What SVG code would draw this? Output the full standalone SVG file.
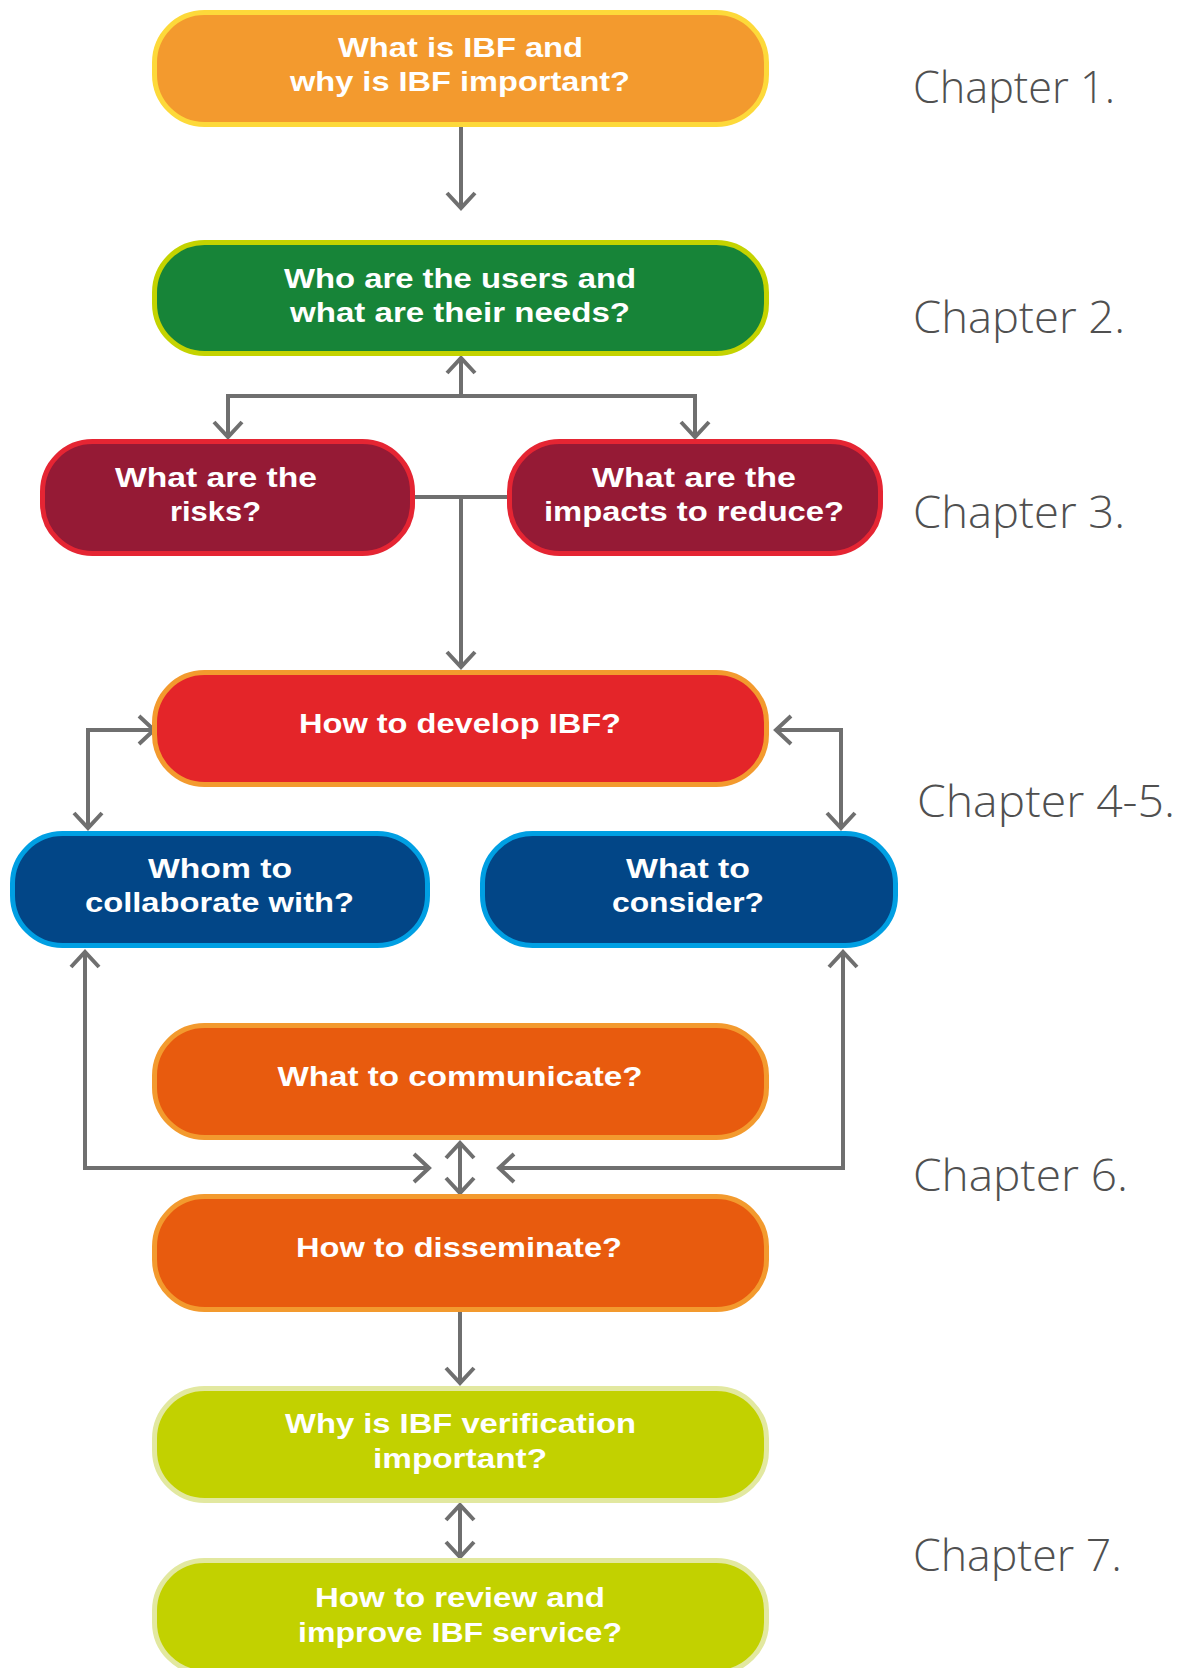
<svg xmlns="http://www.w3.org/2000/svg" width="1184" height="1668" viewBox="0 0 1184 1668">
<style>
.box{stroke-width:5}
.t{font-family:"Liberation Sans","DejaVu Sans",sans-serif;font-weight:700;font-size:28px;fill:#ffffff;text-anchor:middle}
.ch{font-family:"Open Sans","Noto Sans","Liberation Sans",sans-serif;font-weight:300;font-size:44px;fill:#505050}
.c{fill:none;stroke:#6f6f6f;stroke-width:4;stroke-linejoin:miter;stroke-linecap:butt}
.orange{fill:#f39a2e;stroke:#fdd93a}
.green{fill:#178438;stroke:#c4d300}
.maroon{fill:#951a35;stroke:#e52533}
.red{fill:#e42529;stroke:#f39a2e}
.navy{fill:#024687;stroke:#009fe3}
.dorange{fill:#e85b0e;stroke:#f39a2e}
.lime{fill:#c2d100;stroke:#e2e8a0}
</style>
<defs>
<marker id="arr" viewBox="-20 -20 40 40" refX="0" refY="0" markerWidth="40" markerHeight="40" markerUnits="userSpaceOnUse" orient="auto-start-reverse" overflow="visible">
<path d="M-15,-14 L0,0 L-15,14" fill="none" stroke="#6f6f6f" stroke-width="4" stroke-linejoin="miter"/>
</marker>
</defs>
<rect width="1184" height="1668" fill="#ffffff"/>

<g id="connectors">
<path class="c" d="M461,127 L461,208" marker-end="url(#arr)"/>
<path class="c" d="M461,396 L461,358" marker-end="url(#arr)"/>
<path class="c" d="M228,437 L228,396 L695,396 L695,437" marker-start="url(#arr)" marker-end="url(#arr)"/>
<path class="c" d="M415,497 L507,497"/>
<path class="c" d="M461,497 L461,667" marker-end="url(#arr)"/>
<path class="c" d="M88,828 L88,730 L154,730" marker-start="url(#arr)" marker-end="url(#arr)"/>
<path class="c" d="M841,828 L841,730 L776,730" marker-start="url(#arr)" marker-end="url(#arr)"/>
<path class="c" d="M85,952 L85,1168 L429,1168" marker-start="url(#arr)" marker-end="url(#arr)"/>
<path class="c" d="M843,952 L843,1168 L499,1168" marker-start="url(#arr)" marker-end="url(#arr)"/>
<path class="c" d="M460,1143 L460,1193" marker-start="url(#arr)" marker-end="url(#arr)"/>
<path class="c" d="M460,1312 L460,1383" marker-end="url(#arr)"/>
<path class="c" d="M460,1505 L460,1557" marker-start="url(#arr)" marker-end="url(#arr)"/>
</g>

<g id="n1">
<rect class="box orange" x="154.5" y="12.5" width="612" height="112" rx="50"/>
<text class="t" x="460.5" y="57" textLength="245" lengthAdjust="spacingAndGlyphs">What is IBF and</text>
<text class="t" x="460" y="91" textLength="340" lengthAdjust="spacingAndGlyphs">why is IBF important?</text>
</g>
<g id="n2">
<rect class="box green" x="154.5" y="242.5" width="612" height="111" rx="50"/>
<text class="t" x="460" y="288" textLength="352" lengthAdjust="spacingAndGlyphs">Who are the users and</text>
<text class="t" x="460" y="322" textLength="340" lengthAdjust="spacingAndGlyphs">what are their needs?</text>
</g>
<g id="n3a">
<rect class="box maroon" x="42.5" y="441.5" width="370" height="112" rx="50"/>
<text class="t" x="216" y="487" textLength="202" lengthAdjust="spacingAndGlyphs">What are the</text>
<text class="t" x="215.5" y="521" textLength="91" lengthAdjust="spacingAndGlyphs">risks?</text>
</g>
<g id="n3b">
<rect class="box maroon" x="509.5" y="441.5" width="371" height="112" rx="50"/>
<text class="t" x="694" y="487" textLength="204" lengthAdjust="spacingAndGlyphs">What are the</text>
<text class="t" x="694" y="521" textLength="300" lengthAdjust="spacingAndGlyphs">impacts to reduce?</text>
</g>
<g id="n4">
<rect class="box red" x="154.5" y="672.5" width="612" height="112" rx="50"/>
<text class="t" x="460" y="733" textLength="322" lengthAdjust="spacingAndGlyphs">How to develop IBF?</text>
</g>
<g id="n5a">
<rect class="box navy" x="12.5" y="833.5" width="415" height="112" rx="50"/>
<text class="t" x="220" y="878" textLength="144" lengthAdjust="spacingAndGlyphs">Whom to</text>
<text class="t" x="219.5" y="912" textLength="269" lengthAdjust="spacingAndGlyphs">collaborate with?</text>
</g>
<g id="n5b">
<rect class="box navy" x="482.5" y="833.5" width="413" height="112" rx="50"/>
<text class="t" x="688" y="878" textLength="124" lengthAdjust="spacingAndGlyphs">What to</text>
<text class="t" x="688" y="912" textLength="152" lengthAdjust="spacingAndGlyphs">consider?</text>
</g>
<g id="n6a">
<rect class="box dorange" x="154.5" y="1025.5" width="612" height="112" rx="50"/>
<text class="t" x="460" y="1086" textLength="365" lengthAdjust="spacingAndGlyphs">What to communicate?</text>
</g>
<g id="n6b">
<rect class="box dorange" x="154.5" y="1196.5" width="612" height="113" rx="50"/>
<text class="t" x="459" y="1257" textLength="326" lengthAdjust="spacingAndGlyphs">How to disseminate?</text>
</g>
<g id="n7a">
<rect class="box lime" x="154.5" y="1388.5" width="612" height="112" rx="50"/>
<text class="t" x="460.5" y="1433" textLength="351" lengthAdjust="spacingAndGlyphs">Why is IBF verification</text>
<text class="t" x="460" y="1468" textLength="174" lengthAdjust="spacingAndGlyphs">important?</text>
</g>
<g id="n7b">
<rect class="box lime" x="154.5" y="1560.5" width="612" height="112" rx="50"/>
<text class="t" x="460" y="1607" textLength="290" lengthAdjust="spacingAndGlyphs">How to review and</text>
<text class="t" x="460" y="1642" textLength="324" lengthAdjust="spacingAndGlyphs">improve IBF service?</text>
</g>

<g id="chapters">
<text class="ch" x="913" y="103" textLength="202" lengthAdjust="spacingAndGlyphs">Chapter 1.</text>
<text class="ch" x="913" y="333" textLength="212" lengthAdjust="spacingAndGlyphs">Chapter 2.</text>
<text class="ch" x="913" y="528" textLength="212" lengthAdjust="spacingAndGlyphs">Chapter 3.</text>
<text class="ch" x="917" y="817" textLength="258" lengthAdjust="spacingAndGlyphs">Chapter 4-5.</text>
<text class="ch" x="913" y="1191" textLength="215" lengthAdjust="spacingAndGlyphs">Chapter 6.</text>
<text class="ch" x="913" y="1571" textLength="209" lengthAdjust="spacingAndGlyphs">Chapter 7.</text>
</g>
</svg>
